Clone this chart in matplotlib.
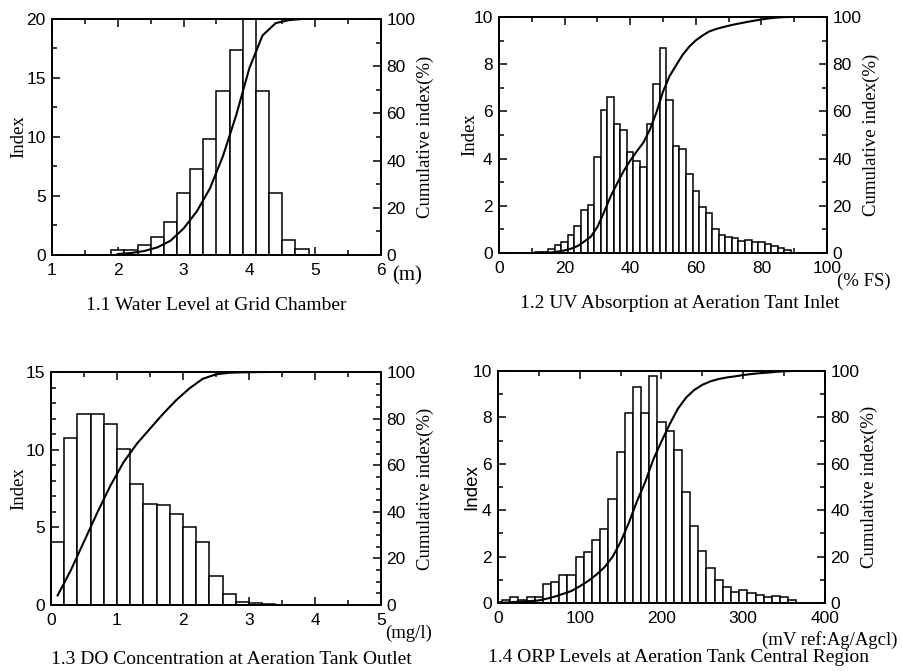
import numpy as np
import matplotlib
matplotlib.use('Agg')
import matplotlib.pyplot as plt
from matplotlib.ticker import MultipleLocator

# ---------------- data ----------------
# 1.1 Water level (m), bin centers and index (%)
wl_centers = [2.0, 2.2, 2.4, 2.6, 2.8, 3.0, 3.2, 3.4, 3.6, 3.8, 4.0, 4.2, 4.4, 4.6, 4.8]
wl_index = [0.42, 0.42, 0.85, 1.55, 2.82, 5.23, 7.26, 9.8, 13.93, 17.37, 20.0, 13.93, 5.23, 1.27, 0.48]

# 1.2 UV absorption (% FS)
uv_centers = [12, 14, 16, 18, 20, 22, 24, 26, 28, 30, 32, 34, 36, 38, 40, 42, 44, 46, 48, 50,
              52, 54, 56, 58, 60, 62, 64, 66, 68, 70, 72, 74, 76, 78, 80, 82, 84, 86, 88]
uv_index = [0.05, 0.05, 0.15, 0.35, 0.47, 0.75, 1.13, 1.84, 2.03, 4.05, 6.06, 6.6, 5.45, 5.23,
            4.3, 3.9, 3.63, 5.47, 7.16, 8.67, 6.48, 4.52, 4.4, 3.35, 2.64, 1.96, 1.7, 1.0,
            0.76, 0.68, 0.62, 0.52, 0.55, 0.47, 0.47, 0.38, 0.31, 0.2, 0.13]

# 1.3 DO concentration (mg/l)
do_centers = [0.1, 0.3, 0.5, 0.7, 0.9, 1.1, 1.3, 1.5, 1.7, 1.9, 2.1, 2.3, 2.5, 2.7, 2.9, 3.1, 3.3]
do_index = [4.07, 10.78, 12.3, 12.3, 11.63, 10.07, 7.82, 6.49, 6.41, 5.89, 4.99, 4.07, 1.89,
            0.69, 0.17, 0.1, 0.05]

# 1.4 ORP (mV ref: Ag/AgCl)
orp_centers = [0, 10, 20, 30, 40, 50, 60, 70, 80, 90, 100, 110, 120, 130, 140, 150, 160, 170,
               180, 190, 200, 210, 220, 230, 240, 250, 260, 270, 280, 290, 300, 310, 320, 330,
               340, 350, 360]
orp_index = [0.05, 0.15, 0.25, 0.15, 0.25, 0.25, 0.8, 0.9, 1.2, 1.2, 2.0, 2.2, 2.7, 3.2, 4.5,
             6.5, 8.2, 9.3, 8.2, 9.8, 7.8, 7.4, 6.6, 4.8, 3.3, 2.25, 1.5, 1.0, 0.67, 0.47,
             0.57, 0.43, 0.36, 0.26, 0.31, 0.26, 0.11]

captions = ["1.1 Water Level at Grid Chamber",
            "1.2 UV Absorption at Aeration Tant Inlet",
            "1.3 DO Concentration at Aeration Tank Outlet",
            "1.4 ORP Levels at Aeration Tank Central Region"]
units = ["(m)", "(% FS)", "(mg/l)", "(mV ref:Ag/Agcl)"]

# ---------------- figure ----------------
W, H = 903, 671
fig = plt.figure(figsize=(W / 100, H / 100), dpi=100)
fig.patch.set_facecolor('white')

SANS = 'Liberation Sans'
SERIF = 'Liberation Serif'
TICK_FS = 12.5
LAB_FS = 13.5


def px_axes(l, t, r, b):
    return fig.add_axes([l / W, 1 - b / H, (r - l) / W, (b - t) / H])


def panel(box, centers, index, width, xlim, ylim, xmaj, xmin, ymaj, ymin, rmin,
          ylabel_font=SERIF, ylabelpad=-1):
    ax = px_axes(*box)
    ax.bar(centers, index, width=width, color='white', edgecolor='black',
           linewidth=1.1, zorder=2)
    ax.set_xlim(*xlim)
    ax.set_ylim(*ylim)
    ax.xaxis.set_major_locator(MultipleLocator(xmaj))
    ax.xaxis.set_minor_locator(MultipleLocator(xmin))
    ax.yaxis.set_major_locator(MultipleLocator(ymaj))
    ax.yaxis.set_minor_locator(MultipleLocator(ymin))
    ax.tick_params(axis='x', which='both', direction='in', top=True, bottom=True,
                   labelsize=TICK_FS, pad=6, width=1.1)
    ax.tick_params(axis='y', which='both', direction='in', left=True, right=False,
                   labelsize=TICK_FS, pad=4.5, width=1.1)
    ax.tick_params(which='major', length=6)
    ax.tick_params(which='minor', length=3.5)
    for lab in ax.get_xticklabels() + ax.get_yticklabels():
        lab.set_fontfamily(SANS)
    ax.set_ylabel('Index', fontfamily=ylabel_font, fontsize=LAB_FS, labelpad=ylabelpad)
    for s in ax.spines.values():
        s.set_linewidth(1.3)

    ax2 = ax.twinx()
    total = np.sum(index)
    cum = np.cumsum(index) / total * 100.0
    ax2.plot(centers, cum, color='black', linewidth=1.5, zorder=3)
    ax2.set_ylim(0, 100)
    ax2.yaxis.set_major_locator(MultipleLocator(20))
    ax2.yaxis.set_minor_locator(MultipleLocator(rmin))
    ax2.tick_params(axis='y', which='both', direction='in', labelsize=TICK_FS, pad=4,
                    width=1.1)
    ax2.tick_params(which='major', length=6)
    ax2.tick_params(which='minor', length=3.5)
    for lab in ax2.get_yticklabels():
        lab.set_fontfamily(SANS)
    ax2.set_ylabel('Cumulative index(%)', fontfamily=SERIF, fontsize=LAB_FS, labelpad=1)
    for s in ax2.spines.values():
        s.set_linewidth(1.3)
    return ax, ax2


panel((52, 19, 381, 255), wl_centers, wl_index, 0.2, (1, 6), (0, 20), 1, 0.5, 5, 2.5, 10,
      ylabelpad=-1)
panel((499, 17, 827, 253), uv_centers, uv_index, 2, (0, 100), (0, 10), 20, 10, 2, 1, 10,
      ylabelpad=-3.5)
panel((51, 372, 381, 605), do_centers, do_index, 0.2, (0, 5), (0, 15), 1, 0.5, 5, 1, 5,
      ylabelpad=-1.5)
panel((498, 371, 825, 603), orp_centers, orp_index, 10, (0, 400), (0, 10), 100, 50, 2, 1, 10,
      ylabel_font=SANS, ylabelpad=-6)

# captions
cap_pos = [(216, 305), (680, 303), (231, 660), (678, 658)]
for (x, y), c in zip(cap_pos, captions):
    fig.text(x / W, 1 - y / H, c, ha='center', va='center', fontfamily=SERIF,
             fontsize=14)

# unit labels
fig.text(392 / W, 1 - 276 / H, units[0], ha='left', va='center', fontfamily=SERIF, fontsize=15)
fig.text(837 / W, 1 - 281 / H, units[1], ha='left', va='center', fontfamily=SERIF, fontsize=13.5)
fig.text(385 / W, 1 - 633 / H, units[2], ha='left', va='center', fontfamily=SERIF, fontsize=13.5)
fig.text(898 / W, 1 - 640 / H, units[3], ha='right', va='center', fontfamily=SERIF, fontsize=13.5)

fig.savefig('out.png', dpi=100, facecolor='white')
